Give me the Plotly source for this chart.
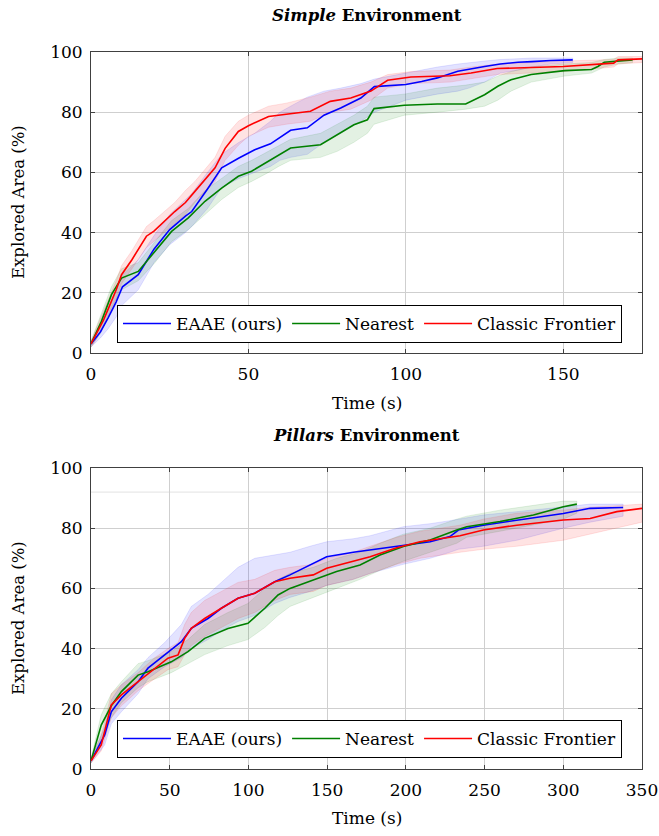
import plotly.graph_objects as go

# ---------------- Simple environment ----------------
s_eaae_t = [0, 3, 5.4, 8, 10, 15, 20, 25, 30, 32, 37, 41.5, 47, 52, 57, 60, 63.4, 68.7, 74, 79.3, 85.7, 90, 95, 100, 105, 110, 116.5, 120, 125, 130, 135.6, 140, 146, 153]
s_eaae_m = [3, 7, 11.6, 17, 22, 26, 34.5, 41, 45.5, 47, 54.5, 61.5, 64.8, 67.5, 69.5, 71.5, 74, 74.8, 79, 81.4, 84.7, 88.5, 88.8, 89.2, 90.2, 91.4, 93.6, 94.3, 95.2, 96, 96.6, 96.8, 97.2, 97.4]
s_eaae_lo = [2, 5, 8, 12, 16, 21, 30, 36, 40, 42, 48, 55, 58, 60, 62, 64, 65, 66, 70, 73, 77, 80, 82, 84, 85, 86, 87, 88, 90, 93, 94, 95, 96, 96.5]
s_eaae_hi = [4, 9, 14, 21, 26, 31, 39, 46, 51, 53, 60, 66, 70, 73, 77, 80, 82, 85, 87, 88, 89.5, 91, 92, 93, 94, 95, 96, 96.5, 97, 97.5, 97.8, 98, 98, 98]

s_near_t = [0, 3.3, 6.5, 9.7, 15, 20.3, 25.6, 30.9, 36.2, 41.5, 46.8, 51, 56.4, 59.6, 63.4, 72.9, 78.2, 83.5, 87.8, 89.9, 99.5, 110, 119, 125, 129.2, 133.4, 139.8, 150.4, 159, 161, 163, 167.4, 172]
s_near_m = [3, 10.5, 19.4, 24.9, 27.1, 33.8, 40.4, 44.9, 50.4, 54.8, 58.7, 60.4, 63.7, 65.9, 68.1, 69.2, 72.5, 75.8, 77.5, 81.2, 82.3, 82.7, 82.7, 85.8, 88.6, 90.8, 92.5, 93.8, 94.2, 95.2, 96.6, 97.1, 97.4]
s_near_lo = [2, 7, 15, 21, 24, 30, 37, 41, 46, 51, 55, 57, 60, 62, 64, 65, 67, 70, 73, 76, 79, 80, 81, 82, 84, 87, 90, 92, 93, 94, 95, 96, 96.5]
s_near_hi = [4, 13, 22, 28, 30, 37, 44, 48, 54, 58, 62, 64, 67, 69, 71, 73, 76, 79, 82, 85, 86, 88, 89, 90, 92, 93.5, 95, 96, 96.5, 97, 97.5, 98, 98]

s_clf_t = [0, 2, 4, 6, 8, 9.7, 13, 17.6, 20, 26.6, 30, 33, 39.4, 42.6, 46.8, 50, 56.4, 62, 69.7, 76, 82.5, 88.9, 94.2, 101.6, 114, 120.7, 129, 150, 166, 167.4, 175]
s_clf_m = [3, 7, 11, 16, 21, 26, 31, 38.8, 40.5, 47, 50, 53.7, 61.5, 68, 73.6, 75.5, 78.6, 79.3, 80.3, 83.6, 84.7, 87, 90.6, 91.7, 92.1, 93, 94.5, 95.2, 96.3, 97.4, 97.7]
s_clf_lo = [2, 5, 9, 13, 18, 23, 28, 35, 37, 43, 46, 50, 57, 64, 69, 72, 75, 76, 77, 80, 81, 84, 88, 89.5, 90, 91, 92.5, 93.5, 95, 96, 96.5]
s_clf_hi = [4, 9, 14, 19, 24, 29, 34, 42, 44, 50, 54, 57, 65, 72, 77, 79, 82, 83, 85, 87, 88, 90, 92.5, 93.5, 94, 95, 96, 97, 97.5, 98.5, 98.5]

# ---------------- Pillars environment ----------------
p_eaae_t = [0, 8.7, 12.9, 19.3, 29.9, 36.2, 46.8, 57.4, 63.7, 74.3, 82.8, 93.4, 104, 116.7, 126.4, 139.1, 149.7, 166.6, 177.3, 198.4, 215.4, 228, 233.4, 249.2, 270.5, 300, 317, 338]
p_eaae_m = [2.7, 11.3, 19, 23.5, 29, 33.5, 37.9, 42.3, 46.7, 50, 53.4, 56.7, 58.4, 62.2, 64.5, 67.8, 70.5, 72, 72.8, 74.2, 75.5, 77.2, 79.4, 81, 82.7, 84.9, 86.6, 86.9]
p_eaae_lo = [2, 8, 15, 19, 25, 30, 34, 37, 40, 43, 46, 49, 51, 55, 57, 59, 61, 63, 65, 68, 70, 72, 73, 74, 76, 80, 82, 84]
p_eaae_hi = [3.5, 14, 23, 28, 33, 37, 42, 48, 54, 58, 62, 67, 70, 71, 72, 74, 75.5, 76.5, 77.5, 80.5, 81.5, 82.5, 83, 84.4, 85.5, 87, 88, 88]

p_near_t = [0, 6.5, 12.9, 19.3, 29.9, 36.2, 51, 61.6, 72.2, 87, 99.7, 110.4, 118.8, 126.4, 141.2, 156, 170.9, 183.6, 198.4, 215.4, 232.3, 238.7, 259.8, 281, 300, 308.6]
p_near_m = [2.7, 14.6, 21, 25.7, 31.2, 32.3, 35.6, 39, 43.4, 46.7, 48.4, 53.4, 57.8, 60, 62.8, 65.6, 67.8, 71.1, 73.9, 76.1, 79.4, 80.5, 82.2, 84.4, 87.1, 88]
p_near_lo = [2, 10, 17, 22, 27, 29, 32, 35, 38, 41, 43, 47, 51, 54, 57, 60, 63, 66, 69, 72, 75, 77, 79, 81, 83, 85]
p_near_hi = [3.5, 18, 25, 29, 35, 36, 39, 43, 48, 52, 55, 60, 63, 65, 67, 70, 72, 75, 78, 80, 83, 84, 86, 87.5, 89, 89]

p_clf_t = [0, 6.5, 12.9, 19.3, 29.9, 40.5, 48.9, 55.3, 59.5, 63.7, 72.2, 82.8, 93.4, 104, 116.7, 126.4, 141.2, 149.7, 166.6, 177.3, 194.2, 209, 234.4, 249.2, 270.5, 300, 317, 334, 350]
p_clf_m = [2.7, 8, 21.3, 24.6, 29, 33.5, 36.8, 37.9, 43.4, 46.7, 50, 53.4, 56.7, 58.4, 62.2, 63.4, 64.5, 66.7, 68.9, 70.5, 73.5, 75.5, 77.5, 79.4, 81, 82.7, 83.2, 85.5, 86.6]
p_clf_lo = [2, 6, 17, 21, 26, 30, 33, 34, 38, 41, 44, 47, 50, 52, 56, 58, 59, 61, 63, 65, 68, 70, 72, 73, 74, 76, 78, 80, 82]
p_clf_hi = [3.5, 11, 25, 28, 32, 37, 40, 42, 48, 52, 56, 59, 62, 63, 66, 67, 68, 70, 72, 74, 77, 79, 81, 83, 85, 86, 87, 87.5, 88]

series_names = ["EAAE (ours)", "Nearest", "Classic Frontier"]
line_colors = ["#0000ff", "#008000", "#ff0000"]
band_colors = ["rgba(0,0,255,0.11)", "rgba(0,128,0,0.11)", "rgba(255,0,0,0.11)"]
band_edges = ["rgba(0,0,255,0.18)", "rgba(0,128,0,0.18)", "rgba(255,0,0,0.18)"]

FONT = "DejaVu Serif"
FS = 17
FS_TITLE = 16.5

fig = go.Figure()

panels = [
    ("x", "y", "legend", [(s_eaae_t, s_eaae_m, s_eaae_lo, s_eaae_hi),
                          (s_near_t, s_near_m, s_near_lo, s_near_hi),
                          (s_clf_t, s_clf_m, s_clf_lo, s_clf_hi)]),
    ("x2", "y2", "legend2", [(p_eaae_t, p_eaae_m, p_eaae_lo, p_eaae_hi),
                             (p_near_t, p_near_m, p_near_lo, p_near_hi),
                             (p_clf_t, p_clf_m, p_clf_lo, p_clf_hi)]),
]

for xa, ya, lg, data in panels:
    for i, (t, m, lo, hi) in enumerate(data):
        fig.add_trace(go.Scatter(
            x=list(t) + list(t)[::-1], y=list(hi) + list(lo)[::-1],
            fill="toself", fillcolor=band_colors[i],
            line=dict(color=band_edges[i], width=0.6),
            mode="lines", showlegend=False, hoverinfo="skip",
            xaxis=xa, yaxis=ya))
    for i, (t, m, lo, hi) in enumerate(data):
        fig.add_trace(go.Scatter(
            x=t, y=m, mode="lines", name=series_names[i],
            line=dict(color=line_colors[i], width=1.6),
            legend=lg, xaxis=xa, yaxis=ya))

W, H = 659, 836
axis_common = dict(
    showline=True, linecolor="#404040", linewidth=1, mirror="ticks",
    ticks="inside", ticklen=4, tickcolor="#404040",
    showgrid=True, gridcolor="#cfcfcf", gridwidth=1, zeroline=False,
    tickfont=dict(family=FONT, size=FS, color="black"),
    automargin=False,
)
xax = dict(ticklabelstandoff=6, **axis_common)
yax = dict(ticklabelstandoff=4, **axis_common)

fig.update_layout(
    width=W, height=H,
    margin=dict(l=91, r=17, t=0, b=0, autoexpand=False),
    paper_bgcolor="white", plot_bgcolor="white",
    font=dict(family=FONT, size=FS, color="black"),
    xaxis=dict(domain=[0, 1], range=[0, 175], tickvals=[0, 50, 100, 150], anchor="y", **xax),
    yaxis=dict(domain=[1 - 353 / H, 1 - 52 / H], range=[0, 100], tickvals=[0, 20, 40, 60, 80, 100], anchor="x", **yax),
    xaxis2=dict(domain=[0, 1], range=[0, 350], tickvals=[0, 50, 100, 150, 200, 250, 300, 350], anchor="y2", **xax),
    yaxis2=dict(domain=[1 - 769 / H, 1 - 468 / H], range=[0, 100], tickvals=[0, 20, 40, 60, 80, 100], anchor="x2", **yax),
    legend=dict(orientation="h", x=(117 - 91) / 551, xanchor="left", y=1 - 305 / H, yanchor="top",
                bordercolor="black", borderwidth=1, bgcolor="white", itemwidth=48,
                font=dict(family=FONT, size=FS), traceorder="normal"),
    legend2=dict(orientation="h", x=(117 - 91) / 551, xanchor="left", y=1 - 720 / H, yanchor="top",
                 bordercolor="black", borderwidth=1, bgcolor="white", itemwidth=48,
                 font=dict(family=FONT, size=FS), traceorder="normal"),
    showlegend=True,
)

fig.add_shape(type="line", xref="x2 domain", yref="y2", x0=0, x1=1, y0=92, y1=92,
              line=dict(color="#e2e2e2", width=1), layer="below")

def txt(text, x, y, angle=0, size=FS):
    fig.add_annotation(text=text, xref="paper", yref="paper", x=x, y=y,
                       xanchor="center", yanchor="middle", showarrow=False, textangle=angle,
                       font=dict(family=FONT, size=size, color="black"))

txt("<b><i>Simple</i> Environment</b>", 0.5, 1 - 16 / H, size=FS_TITLE)
txt("<b><i>Pillars</i> Environment</b>", 0.5, 1 - 435 / H, size=FS_TITLE)
txt("Time (s)", 0.5, 1 - 403 / H)
txt("Time (s)", 0.5, 1 - 818 / H)
txt("Explored Area (%)", (18 - 91) / 551, 1 - 202 / H, -90, size=16.5)
txt("Explored Area (%)", (18 - 91) / 551, 1 - 618 / H, -90, size=16.5)

fig.write_html("out.html")
